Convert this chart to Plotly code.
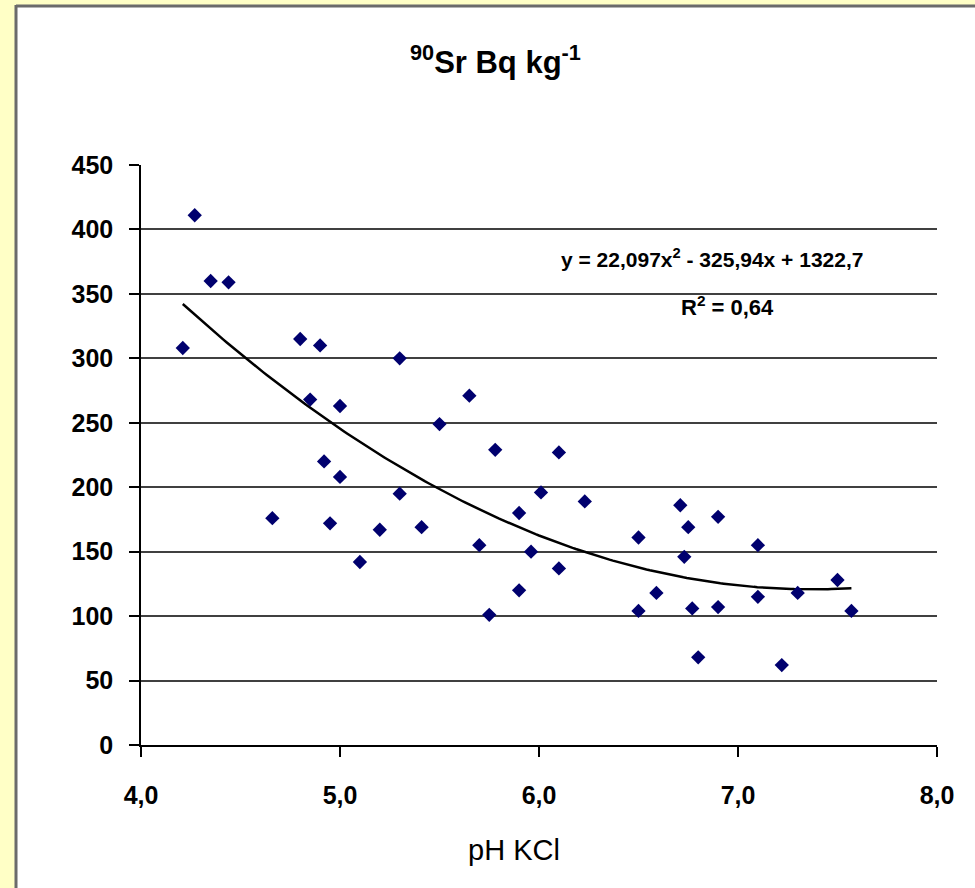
import numpy as np
import plotly.graph_objects as go

# ---- data ----
ph_kcl = [4.21, 4.27, 4.35, 4.44, 4.66, 4.80, 4.85, 4.90, 4.92, 4.95,
          5.00, 5.00, 5.10, 5.20, 5.30, 5.30, 5.41, 5.50, 5.65, 5.70,
          5.75, 5.78, 5.90, 5.90, 5.96, 6.01, 6.10, 6.10, 6.23, 6.50,
          6.50, 6.59, 6.71, 6.73, 6.75, 6.77, 6.80, 6.90, 6.90, 7.10,
          7.10, 7.22, 7.30, 7.50, 7.57]
sr90 = [308, 411, 360, 359, 176, 315, 268, 310, 220, 172,
        263, 208, 142, 167, 300, 195, 169, 249, 271, 155,
        101, 229, 180, 120, 150, 196, 227, 137, 189, 161,
        104, 118, 186, 146, 169, 106, 68, 177, 107, 155,
        115, 62, 118, 128, 104]

# trendline coefficients as printed on the chart
trend_coef = [22.097, -325.94, 1322.7]
trend_label = "y = 22,097x<sup>2</sup> - 325,94x + 1322,7"
r2_label = "R<sup>2</sup> = 0,64"

x_ticks = [4.0, 5.0, 6.0, 7.0, 8.0]
x_ticklabels = ["4,0", "5,0", "6,0", "7,0", "8,0"]
y_ticks = [0, 50, 100, 150, 200, 250, 300, 350, 400, 450]

title_text = "<b><sup>90</sup>Sr Bq kg<sup>-1</sup></b>"
x_title = "pH KCl"

FONT = "Liberation Sans, Arial, sans-serif"
BG = "#ffffc6"

tx = np.linspace(min(ph_kcl), max(ph_kcl), 200)
ty = np.polyval(trend_coef, tx)

fig = go.Figure()
fig.add_trace(go.Scatter(
    x=tx, y=ty, mode="lines",
    line=dict(color="black", width=2.5),
    hoverinfo="skip", showlegend=False))
fig.add_trace(go.Scatter(
    x=ph_kcl, y=sr90, mode="markers",
    marker=dict(symbol="diamond", size=11, color="#00006e",
                line=dict(width=0)),
    showlegend=False))

W, H = 975, 888
L, R, T, B = 141, 38, 165, 143
pw, ph = W - L - R, H - T - B

def px_x(p):
    return (p - L) / pw

def px_y(p):
    return (H - B - p) / ph

# white panel with grey border (left/top)
fig.add_shape(type="rect", xref="paper", yref="paper",
              x0=px_x(15), x1=px_x(990), y0=px_y(900), y1=px_y(5),
              fillcolor="white", line=dict(width=0), layer="below")
fig.add_shape(type="line", xref="paper", yref="paper",
              x0=px_x(16), x1=px_x(16), y0=px_y(900), y1=px_y(5),
              line=dict(color="#6b6b6b", width=3), layer="below")
fig.add_shape(type="line", xref="paper", yref="paper",
              x0=px_x(16), x1=px_x(990), y0=px_y(6), y1=px_y(6),
              line=dict(color="#6b6b6b", width=3), layer="below")

fig.update_layout(
    width=W, height=H,
    margin=dict(l=L, r=R, t=T, b=B),
    paper_bgcolor=BG,
    plot_bgcolor="white",
    font=dict(family=FONT, color="black"),
    annotations=[
        dict(text=title_text, xref="paper", yref="paper",
             x=px_x(495), y=px_y(60), showarrow=False,
             font=dict(size=31, family=FONT), xanchor="center", yanchor="middle"),
        dict(text="<b>" + trend_label + "</b>", xref="paper", yref="paper",
             x=px_x(712), y=px_y(258), showarrow=False,
             font=dict(size=21, family=FONT), xanchor="center", yanchor="middle"),
        dict(text="<b>" + r2_label + "</b>", xref="paper", yref="paper",
             x=px_x(727), y=px_y(306), showarrow=False,
             font=dict(size=22, family=FONT), xanchor="center", yanchor="middle"),
        dict(text=x_title, xref="paper", yref="paper",
             x=px_x(514), y=px_y(850), showarrow=False,
             font=dict(size=29, family=FONT), xanchor="center", yanchor="middle"),
    ],
)
fig.update_xaxes(
    range=[4, 8], tickvals=x_ticks, ticktext=x_ticklabels,
    showgrid=False, zeroline=False,
    showline=True, linecolor="black", linewidth=1.5,
    ticks="outside", ticklen=10, tickcolor="black", tickwidth=1.5,
    ticklabelstandoff=17,
    tickfont=dict(size=25, family=FONT, weight="bold"),
)
fig.update_yaxes(
    range=[0, 450], tickvals=y_ticks,
    showgrid=True, gridcolor="#404040", gridwidth=1.5,
    zeroline=False,
    showline=True, linecolor="black", linewidth=1.5,
    ticks="outside", ticklen=10, tickcolor="black", tickwidth=1.5,
    ticklabelstandoff=11,
    tickfont=dict(size=25, family=FONT, weight="bold"),
)

fig.write_html(
    "out.html",
    config={"displayModeBar": False},
    post_script="document.body.style.margin='0';"
                "document.body.style.background='" + BG + "';",
)
